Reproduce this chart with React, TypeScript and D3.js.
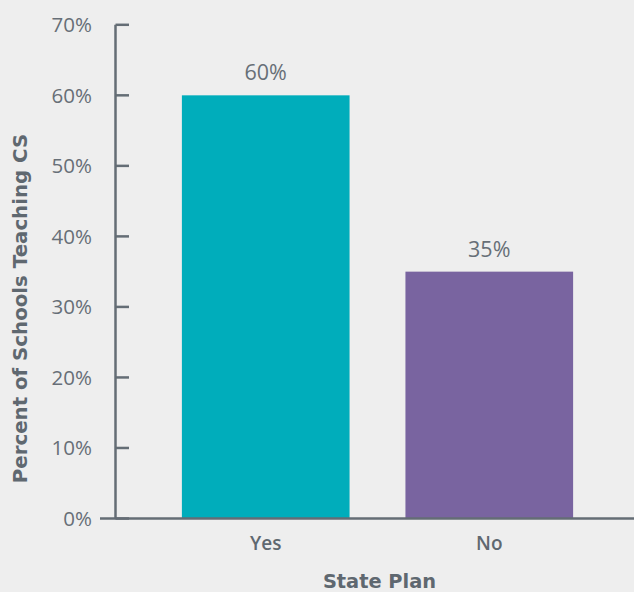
import React from "react";
import * as d3 from "d3";

const categories = ["Yes", "No"];
const values = [0.6, 0.35];
const barColors = ["#00adbb", "#7964a0"];
const yTicks = [0, 0.1, 0.2, 0.3, 0.4, 0.5, 0.6, 0.7];
const yTitle = "Percent of Schools Teaching CS";
const xTitle = "State Plan";

const W = 634;
const H = 592;

export default function App() {
  const y = d3.scaleLinear().domain([0, 0.7]).range([518.5, 24.8]);
  const x = d3.scaleBand<string>().domain(categories).range([126, 629]).paddingInner(0.25).paddingOuter(0.25);
  const fmt = d3.format(".0%");
  const axisColor = "#646d75";
  const textColor = "#5f6870";
  const lightText = "#676f77";
  const font = "'Open Sans', sans-serif";
  const boldFont = "'DejaVu Sans', sans-serif";
  const axisX = 115.5;
  return (
    <svg width={W} height={H} style={{ position: "absolute", left: 0, top: 0, background: "#eeeeee" }}>
      <rect width={W} height={H} fill="#eeeeee" />
      {categories.map((c, i) => (
        <g key={c}>
          <rect x={x(c)} y={y(values[i])} width={x.bandwidth()} height={y(0) - y(values[i])} fill={barColors[i]} />
          <text x={(x(c) as number) + x.bandwidth() / 2} y={y(values[i]) - 15} textAnchor="middle" fontFamily={font} fontWeight={400} fontSize={21.5} fill={lightText}>
            {fmt(values[i])}
          </text>
          <text x={(x(c) as number) + x.bandwidth() / 2} y={550} textAnchor="middle" fontFamily={font} fontWeight={600} fontSize={19} fill={textColor}>
            {c}
          </text>
        </g>
      ))}
      <line x1={axisX} x2={axisX} y1={y(0.7)} y2={y(0)} stroke={axisColor} strokeWidth={2.5} />
      <line x1={100} x2={W} y1={y(0)} y2={y(0)} stroke={axisColor} strokeWidth={2.5} />
      {yTicks.map((t) => (
        <g key={t}>
          <line x1={axisX} x2={129} y1={y(t)} y2={y(t)} stroke={axisColor} strokeWidth={2.5} />
          <text x={92} y={y(t) + 7.5} textAnchor="end" fontFamily={font} fontWeight={400} fontSize={20.5} fill={lightText}>
            {fmt(t)}
          </text>
        </g>
      ))}
      <text transform={`translate(27,308.5) rotate(-90)`} textAnchor="middle" fontFamily={boldFont} fontWeight={700} fontSize={19.8} fill={textColor}>
        {yTitle}
      </text>
      <text x={379.5} y={587.5} textAnchor="middle" fontFamily={boldFont} fontWeight={700} fontSize={19.4} fill={textColor}>
        {xTitle}
      </text>
    </svg>
  );
}
